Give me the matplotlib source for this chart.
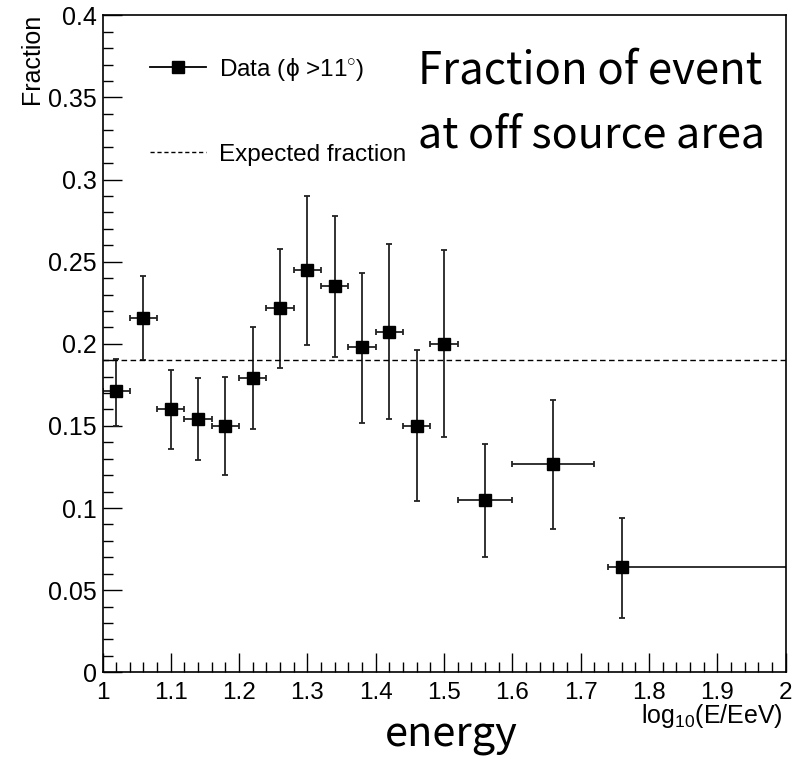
import matplotlib
matplotlib.use('Agg')
import matplotlib.pyplot as plt
from matplotlib.lines import Line2D
from matplotlib.ticker import MultipleLocator, FormatStrFormatter
import numpy as np

# values
log_e = [1.02, 1.06, 1.10, 1.14, 1.18, 1.22, 1.26, 1.30, 1.34, 1.38, 1.42, 1.46, 1.50, 1.56, 1.66, 1.76]
bin_lo = [1.00, 1.04, 1.08, 1.12, 1.16, 1.20, 1.24, 1.28, 1.32, 1.36, 1.40, 1.44, 1.48, 1.52, 1.60, 1.74]
bin_hi = [1.04, 1.08, 1.12, 1.16, 1.20, 1.24, 1.28, 1.32, 1.36, 1.40, 1.44, 1.48, 1.52, 1.60, 1.72, 2.10]
fraction = [0.171, 0.216, 0.160, 0.154, 0.150, 0.179, 0.222, 0.245, 0.235, 0.198, 0.207, 0.150, 0.200, 0.105, 0.127, 0.064]
frac_lo = [0.150, 0.190, 0.136, 0.129, 0.120, 0.148, 0.185, 0.199, 0.192, 0.152, 0.154, 0.104, 0.143, 0.070, 0.087, 0.033]
frac_hi = [0.191, 0.241, 0.184, 0.179, 0.180, 0.210, 0.258, 0.290, 0.278, 0.243, 0.261, 0.196, 0.257, 0.139, 0.166, 0.094]
expected = 0.19

plt.rcParams['font.family'] = ['Liberation Sans', 'DejaVu Sans']
plt.rcParams['mathtext.fontset'] = 'custom'
plt.rcParams['mathtext.rm'] = 'Liberation Sans'
plt.rcParams['mathtext.it'] = 'Liberation Sans:italic'

W, H = 803, 758
fig = plt.figure(figsize=(W / 100, H / 100), dpi=100)
ax = fig.add_axes([102.5 / W, 1 - 672.3 / H, 683.2 / W, 657 / H])

x = np.array(log_e)
y = np.array(fraction)
xerr = [x - np.array(bin_lo), np.array(bin_hi) - x]
yerr = [y - np.array(frac_lo), np.array(frac_hi) - y]

ax.errorbar(x, y, xerr=xerr, yerr=yerr, fmt='s', color='black', ms=8.5,
            ecolor='#222222', elinewidth=1.3, capsize=2.5, capthick=1.3)
ax.axhline(expected, color='black', lw=1, ls=(0, (4, 2.5)))

ax.set_xlim(1, 2)
ax.set_ylim(0, 0.4)
ax.xaxis.set_major_locator(MultipleLocator(0.1))
ax.xaxis.set_minor_locator(MultipleLocator(0.02))
ax.yaxis.set_major_locator(MultipleLocator(0.05))
ax.yaxis.set_minor_locator(MultipleLocator(0.01))
ax.xaxis.set_major_formatter(FormatStrFormatter('%g'))
ax.yaxis.set_major_formatter(FormatStrFormatter('%g'))
ax.tick_params(which='both', direction='in', top=False, right=False, width=1)
ax.tick_params(which='major', length=14, labelsize=18)
ax.tick_params(axis='x', which='major', pad=7, labelsize=17.5)
ax.tick_params(axis='y', which='major', pad=4)
ax.tick_params(which='minor', length=7)
for s in ax.spines.values():
    s.set_linewidth(1.2)

fig.text(32 / W, 1 - 14 / H, 'Fraction', rotation=90, ha='center', va='top', fontsize=18)
fig.text(783 / W, 1 - 723 / H, r'$\mathregular{log_{10}}$(E/EeV)', ha='right', va='baseline', fontsize=18)

handles = [Line2D([], [], color='black', marker='s', ms=8.5, lw=1.3),
           Line2D([], [], color='black', lw=1, ls=(0, (3, 2)))]
labels = [r'Data ($\mathregular{\phi}$ >11$^{\circ}$)', 'Expected fraction']
ax.legend(handles, labels, loc='upper left', bbox_to_anchor=(150 / W, 1 - 56 / H),
          bbox_transform=fig.transFigure, frameon=False, fontsize=17.5,
          borderpad=0, borderaxespad=0, handlelength=2.3, handletextpad=0.55,
          labelspacing=2.5)

jp = ['Noto Sans CJK JP', 'DejaVu Sans']
fig.text(418 / W, 1 - 83 / H, 'Fraction of event', ha='left', va='baseline', fontsize=31.5, family=jp)
fig.text(418 / W, 1 - 147 / H, 'at off source area', ha='left', va='baseline', fontsize=31, family=jp)
fig.text(451 / W, 1 - 747 / H, 'energy', ha='center', va='baseline', fontsize=30, family=jp)

fig.savefig('out.png', dpi=100)
